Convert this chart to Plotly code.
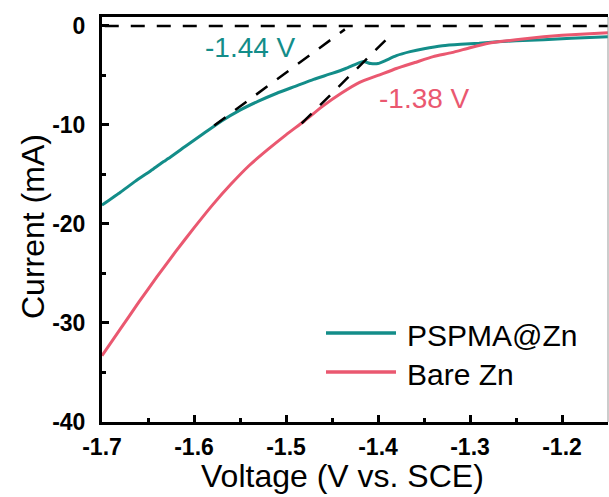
import plotly.graph_objects as go

# ---- data ----
teal_v = [-1.700, -1.680, -1.664, -1.645, -1.633, -1.628, -1.610, -1.590, -1.570, -1.550,
          -1.530, -1.510, -1.490, -1.470, -1.450, -1.435, -1.425, -1.416, -1.408, -1.400,
          -1.392, -1.380, -1.365, -1.350, -1.330, -1.310, -1.290, -1.270, -1.250, -1.220,
          -1.190, -1.150]
teal_i = [-18.1, -16.8, -15.7, -14.5, -13.7, -13.4, -12.2, -10.9, -9.6, -8.5,
          -7.6, -6.8, -6.1, -5.4, -4.8, -4.3, -3.9, -3.6, -3.8, -3.8,
          -3.5, -3.0, -2.6, -2.3, -2.0, -1.85, -1.75, -1.6, -1.5, -1.4,
          -1.25, -1.1]

red_v = [-1.70, -1.68, -1.66, -1.64, -1.62, -1.60, -1.58, -1.56, -1.54, -1.52,
         -1.50, -1.48, -1.46, -1.44, -1.42, -1.40, -1.38, -1.36, -1.34, -1.32,
         -1.30, -1.28, -1.26, -1.24, -1.22, -1.20, -1.18, -1.15]
red_i = [-33.3, -30.6, -27.9, -25.3, -22.8, -20.4, -18.1, -16.0, -14.1, -12.5,
         -11.0, -9.6, -8.1, -6.8, -5.7, -5.0, -4.3, -3.7, -3.1, -2.7,
         -2.2, -1.75, -1.5, -1.3, -1.1, -0.95, -0.85, -0.7]

tan_teal_v = [-1.578, -1.436]
tan_teal_i = [-10.05, -0.35]
tan_red_v = [-1.483, -1.388]
tan_red_i = [-9.85, -1.1]
base_v = [-1.697, -1.150]
base_i = [0.0, 0.0]

x_ticks = [-1.7, -1.6, -1.5, -1.4, -1.3, -1.2]
x_tick_labels = ["-1.7", "-1.6", "-1.5", "-1.4", "-1.3", "-1.2"]
y_ticks = [-40, -30, -20, -10, 0]
y_tick_labels = ["-40", "-30", "-20", "-10", "0"]

series_names = ["PSPMA@Zn", "Bare Zn"]
onset_labels = ["-1.44 V", "-1.38 V"]

TEAL = "#138d89"
PINK = "#ea5870"
FONT = "Arial, 'Liberation Sans', sans-serif"
DASH = "14px,12px"

fig = go.Figure()
fig.add_trace(go.Scatter(x=teal_v, y=teal_i, mode="lines", name=series_names[0],
                         line=dict(color=TEAL, width=3, shape="spline", smoothing=0.5),
                         showlegend=False))
fig.add_trace(go.Scatter(x=red_v, y=red_i, mode="lines", name=series_names[1],
                         line=dict(color=PINK, width=3, shape="spline", smoothing=0.5),
                         showlegend=False))
for xs, ys in [(base_v, base_i), (tan_teal_v, tan_teal_i), (tan_red_v, tan_red_i)]:
    fig.add_trace(go.Scatter(x=xs, y=ys, mode="lines",
                             line=dict(color="black", width=2.5, dash=DASH),
                             showlegend=False, hoverinfo="skip"))

L, R, T, B = 102, 1, 17, 75
W, H = 609, 497
pw, ph = W - L - R, H - T - B

def px(x):
    return (x - L) / pw

def py(y):
    return (H - B - y) / ph

annotations = [
    dict(text=onset_labels[0], x=-1.539, y=-2.2, xref="x", yref="y", showarrow=False,
         font=dict(family=FONT, size=28, color=TEAL), xanchor="center", yanchor="middle"),
    dict(text=onset_labels[1], x=-1.350, y=-7.3, xref="x", yref="y", showarrow=False,
         font=dict(family=FONT, size=28, color=PINK), xanchor="center", yanchor="middle"),
    dict(text="Voltage (V vs. SCE)", x=px(342), y=py(476), xref="paper", yref="paper",
         showarrow=False, font=dict(family=FONT, size=32, color="black"),
         xanchor="center", yanchor="middle"),
    dict(text="Current (mA)", x=px(33), y=py(227), xref="paper", yref="paper",
         showarrow=False, textangle=-90, font=dict(family=FONT, size=32, color="black"),
         xanchor="center", yanchor="middle"),
    dict(text=series_names[0], x=px(405), y=py(335), xref="paper", yref="paper",
         showarrow=False, font=dict(family=FONT, size=30, color="black"),
         xanchor="left", yanchor="middle"),
    dict(text=series_names[1], x=px(405), y=py(374), xref="paper", yref="paper",
         showarrow=False, font=dict(family=FONT, size=30, color="black"),
         xanchor="left", yanchor="middle"),
]

shapes = [
    dict(type="line", xref="paper", yref="paper", x0=px(326), x1=px(396), y0=py(333), y1=py(333),
         line=dict(color=TEAL, width=3.5)),
    dict(type="line", xref="paper", yref="paper", x0=px(326), x1=px(396), y0=py(372), y1=py(372),
         line=dict(color=PINK, width=3.5)),
    dict(type="line", xref="paper", yref="paper", x0=1, x1=1, y0=0, y1=1,
         line=dict(color="#999999", width=1)),
]

fig.update_layout(
    width=W, height=H,
    margin=dict(l=L, r=R, t=T, b=B, pad=0),
    paper_bgcolor="white", plot_bgcolor="white",
    font=dict(family=FONT, color="black"),
    showlegend=False,
    annotations=annotations,
    shapes=shapes,
)
fig.update_xaxes(
    range=[-1.7, -1.15], tickmode="array", tickvals=x_ticks,
    ticktext=["<b>%s</b>" % t for t in x_tick_labels],
    showline=True, linecolor="black", linewidth=3, mirror=True,
    ticks="inside", ticklen=7, tickwidth=2.5, tickcolor="black",
    minor=dict(ticks="inside", ticklen=4, tickwidth=2.5, dtick=0.05, tick0=-1.7, tickcolor="black"),
    showgrid=False, zeroline=False, ticklabelstandoff=2,
    tickfont=dict(family=FONT, size=23, color="black"),
)
fig.update_yaxes(
    range=[-40, 0.9], tickmode="array", tickvals=y_ticks,
    ticktext=["<b>%s</b>" % t for t in y_tick_labels],
    showline=True, linecolor="black", linewidth=3, mirror=False,
    ticks="inside", ticklen=7, tickwidth=2.5, tickcolor="black",
    minor=dict(ticks="inside", ticklen=4, tickwidth=2.5, dtick=5, tick0=0, tickcolor="black"),
    showgrid=False, zeroline=False, ticklabelstandoff=9,
    tickfont=dict(family=FONT, size=23, color="black"),
)

fig.write_html("out.html")
